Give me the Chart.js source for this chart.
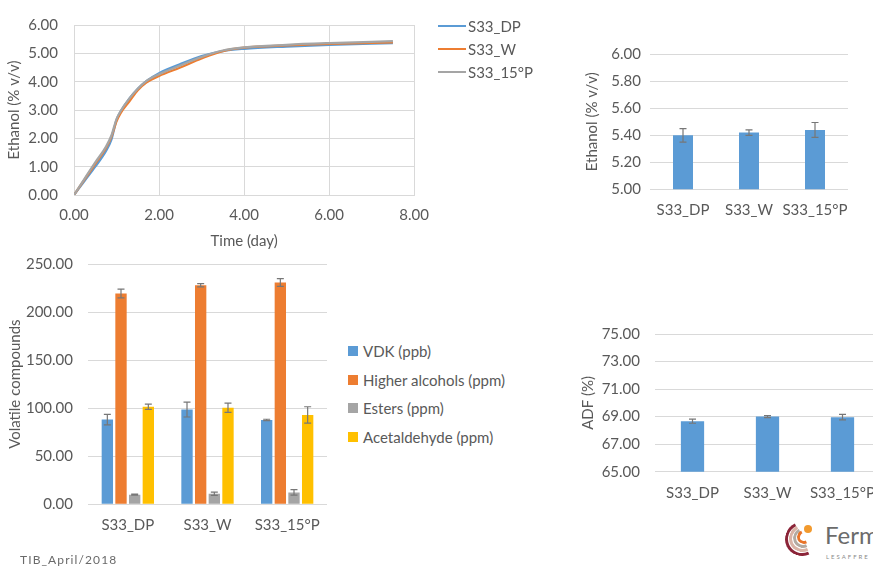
<!DOCTYPE html>
<html>
<head>
<meta charset="utf-8">
<script src="https://cdn.jsdelivr.net/npm/chart.js@4.4.0/dist/chart.umd.min.js"></script>
<style>
  body { margin: 0; width: 873px; height: 567px; overflow: hidden; background: #fff; position: relative; font-family: Lato, sans-serif; }
  canvas { position: absolute; }
  .leyenda { position: absolute; font-size: 15px; color: #595959; }
  .fila { position: absolute; white-space: nowrap; display: flex; align-items: center; }
  .linea { display: inline-block; width: 28px; height: 2px; margin-right: 2px; }
  .cuadro { display: inline-block; width: 10px; height: 10px; margin-right: 5px; }
  #pie { position: absolute; left: 20px; top: 552px; font-size: 12px; letter-spacing: 1.1px; color: #6a6a6a; }
  #logo { position: absolute; left: 780px; top: 515px; width: 93px; height: 52px; }
  .arco { position: absolute; border-radius: 50%; border: 3px solid transparent; transform: rotate(20deg); }
</style>
</head>
<body>
<canvas id="g1" width="440" height="250" style="left:0;top:0"></canvas>
<canvas id="g2" width="313" height="210" style="left:560px;top:20px"></canvas>
<canvas id="g3" width="345" height="300" style="left:0;top:240px"></canvas>
<canvas id="g4" width="340" height="200" style="left:560px;top:310px"></canvas>

<div class="leyenda" id="ley1"></div>
<div class="leyenda" id="ley3"></div>

<div id="pie">TIB_April/2018</div>

<div id="logo">
  <div class="arco" style="left:5px;top:7px;width:28px;height:28px;border-left-color:#8b2438;border-bottom-color:#8b2438"></div>
  <div class="arco" style="left:9px;top:10px;width:21px;height:21px;border-left-color:#d9b3a6;border-bottom-color:#d9b3a6"></div>
  <div class="arco" style="left:13px;top:13px;width:14px;height:14px;border-left-color:#b3aaa2;border-bottom-color:#b3aaa2"></div>
  <div class="arco" style="left:17px;top:15px;width:8px;height:8px;border-left-color:#e8742a;border-bottom-color:#e8742a"></div>
  <div style="position:absolute;left:24px;top:10px;width:8px;height:8px;border-radius:50%;background:#f29a2e"></div>
  <div style="position:absolute;left:45px;top:5px;font-size:24px;color:#6b6b6b;font-family:Lato,sans-serif">Ferm</div>
  <div style="position:absolute;left:46px;top:38px;font-size:6px;letter-spacing:2px;color:#8a8a8a">LESAFFRE</div>
</div>

<script>
// Etanol durante la fermentación
const tiempo     = [0, 0.25, 0.5, 0.75, 0.88, 1.0, 1.1, 1.3, 1.5, 1.7, 2.0, 2.5, 3.0, 3.5, 4.0, 5.0, 6.0, 7.5];
const etanolDP   = [0, 0.50, 1.00, 1.55, 1.95, 2.65, 2.95, 3.40, 3.75, 4.02, 4.30, 4.62, 4.90, 5.08, 5.16, 5.24, 5.30, 5.36];
const etanolW    = [0, 0.55, 1.10, 1.65, 2.05, 2.60, 2.90, 3.30, 3.70, 3.97, 4.20, 4.50, 4.82, 5.08, 5.20, 5.28, 5.33, 5.39];
const etanol15P  = [0, 0.58, 1.15, 1.70, 2.10, 2.68, 2.97, 3.40, 3.75, 4.02, 4.26, 4.57, 4.87, 5.10, 5.21, 5.30, 5.36, 5.43];
const series1    = ['S33_DP', 'S33_W', 'S33_15°P'];

// Etanol final
const cepas = ['S33_DP', 'S33_W', 'S33_15°P'];
const etanolFinal    = [5.40, 5.42, 5.44];
const etanolFinalErr = [0.05, 0.02, 0.055];

// Compuestos volátiles
const compuestos   = ['VDK (ppb)', 'Higher alcohols (ppm)', 'Esters (ppm)', 'Acetaldehyde (ppm)'];
const vdk          = [88.1, 98.5, 87.8];
const vdkErr       = [5.5, 7.7, 0.7];
const alcoholes    = [219.3, 227.9, 230.7];
const alcoholesErr = [4.5, 1.7, 4.0];
const esteres      = [10.0, 11.0, 12.4];
const esteresErr   = [0.5, 1.7, 2.8];
const acetaldehido = [101.5, 100.5, 93.0];
const acetaldehidoErr = [2.7, 4.8, 8.5];

// ADF
const adf    = [68.67, 69.0, 68.96];
const adfErr = [0.15, 0.07, 0.2];

const colores = ['#5B9BD5', '#ED7D31', '#A5A5A5', '#FFC000'];
const gris = '#595959';
const rejilla = '#D9D9D9';

Chart.defaults.font.family = 'Lato, sans-serif';
Chart.defaults.font.size = 15;
Chart.defaults.color = gris;

const barrasError = {
  id: 'barrasError',
  afterDatasetsDraw(chart) {
    const ctx = chart.ctx;
    const y = chart.scales.y;
    chart.data.datasets.forEach((ds, i) => {
      if (!ds.errores) return;
      const meta = chart.getDatasetMeta(i);
      meta.data.forEach((bar, j) => {
        const v = ds.data[j], e = ds.errores[j];
        const arriba = y.getPixelForValue(v + e), abajo = y.getPixelForValue(v - e);
        ctx.save();
        ctx.strokeStyle = '#777';
        ctx.lineWidth = 1.2;
        ctx.beginPath();
        ctx.moveTo(bar.x, arriba); ctx.lineTo(bar.x, abajo);
        ctx.moveTo(bar.x - 3.5, arriba); ctx.lineTo(bar.x + 3.5, arriba);
        ctx.moveTo(bar.x - 3.5, abajo); ctx.lineTo(bar.x + 3.5, abajo);
        ctx.stroke();
        ctx.restore();
      });
    });
  }
};

const sinExtras = { legend: { display: false }, tooltip: { enabled: false } };
const xCategorias = (pad, alto) => ({
  ticks: { padding: pad, maxRotation: 0, minRotation: 0, autoSkip: false },
  grid: { display: false, drawTicks: false },
  border: { display: false },
  afterFit: s => { s.height = alto; }
});

// ----- gráfico 1: curva de etanol -----
const curvas = [etanolDP, etanolW, etanol15P];
new Chart(document.getElementById('g1'), {
  type: 'line',
  data: {
    datasets: curvas.map((c, k) => ({
      label: series1[k],
      data: tiempo.map((t, i) => ({ x: t, y: c[i] })),
      borderColor: colores[k],
      order: 3 - k
    }))
  },
  options: {
    responsive: false,
    animation: false,
    layout: { padding: { left: 0, right: 25, top: 17.7, bottom: 0 } },
    plugins: sinExtras,
    elements: {
      point: { radius: 0 },
      line: { borderWidth: 2.25, cubicInterpolationMode: 'monotone' }
    },
    scales: {
      x: {
        type: 'linear', min: 0, max: 8,
        ticks: { stepSize: 2, padding: 11, maxRotation: 0, callback: v => v.toFixed(2) },
        grid: { color: rejilla, drawTicks: false },
        border: { color: rejilla },
        title: { display: true, text: 'Time (day)', padding: 0 },
        afterFit: s => { s.height = 55; }
      },
      y: {
        min: 0, max: 6,
        ticks: { stepSize: 1, padding: 16, callback: v => v.toFixed(2) },
        grid: { color: rejilla, drawTicks: false },
        border: { color: rejilla },
        title: { display: true, text: 'Ethanol (% v/v)', padding: { top: 5, bottom: 0 } },
        afterFit: s => { s.width = 74; }
      }
    }
  }
});

// ----- gráfico 2: etanol final -----
new Chart(document.getElementById('g2'), {
  type: 'bar',
  data: {
    labels: cepas,
    datasets: [{ data: etanolFinal, errores: etanolFinalErr, backgroundColor: colores[0], barPercentage: 0.303, categoryPercentage: 1 }]
  },
  options: {
    responsive: false,
    animation: false,
    layout: { padding: { left: 0, right: 25, top: 34.3, bottom: 0 } },
    plugins: sinExtras,
    scales: {
      x: xCategorias(12, 40.7),
      y: {
        min: 5, max: 6,
        ticks: { stepSize: 0.2, padding: 9, callback: v => v.toFixed(2) },
        grid: { color: rejilla, drawTicks: false },
        border: { display: false },
        title: { display: true, text: 'Ethanol (% v/v)', padding: { top: 23, bottom: 0 } },
        afterFit: s => { s.width = 90; }
      }
    }
  },
  plugins: [barrasError]
});

// ----- gráfico 3: compuestos volátiles -----
const valores3 = [vdk, alcoholes, esteres, acetaldehido];
const errores3 = [vdkErr, alcoholesErr, esteresErr, acetaldehidoErr];
new Chart(document.getElementById('g3'), {
  type: 'bar',
  data: {
    labels: cepas,
    datasets: valores3.map((v, k) => ({
      label: compuestos[k], data: v, errores: errores3[k],
      backgroundColor: colores[k], barPercentage: 0.83, categoryPercentage: 0.686
    }))
  },
  options: {
    responsive: false,
    animation: false,
    layout: { padding: { left: 0, right: 18, top: 22.3, bottom: 0 } },
    plugins: sinExtras,
    scales: {
      x: xCategorias(12, 35.7),
      y: {
        min: 0, max: 250,
        ticks: { stepSize: 50, padding: 15, callback: v => v.toFixed(2) },
        grid: { color: rejilla, drawTicks: false },
        border: { display: false },
        title: { display: true, text: 'Volatile compounds', padding: { top: 6, bottom: 0 } },
        afterFit: s => { s.width = 88; }
      }
    }
  },
  plugins: [barrasError]
});

// ----- gráfico 4: ADF -----
new Chart(document.getElementById('g4'), {
  type: 'bar',
  data: {
    labels: cepas,
    datasets: [{ data: adf, errores: adfErr, backgroundColor: colores[0], barPercentage: 0.31, categoryPercentage: 1 }]
  },
  options: {
    responsive: false,
    animation: false,
    layout: { padding: { left: 0, right: 20, top: 23.3, bottom: 0 } },
    plugins: sinExtras,
    scales: {
      x: xCategorias(12, 38.3),
      y: {
        min: 65, max: 75,
        ticks: { stepSize: 2, padding: 15, callback: v => v.toFixed(2) },
        grid: { color: rejilla, drawTicks: false },
        border: { display: false },
        title: { display: true, text: 'ADF (%)', padding: { top: 18.7, bottom: 0 } },
        afterFit: s => { s.width = 95; }
      }
    }
  },
  plugins: [barrasError]
});

// leyendas
const ley1 = document.getElementById('ley1');
series1.forEach((nombre, k) => {
  const fila = document.createElement('div');
  fila.className = 'fila';
  fila.style.left = '438px';
  fila.style.top = (17 + k * 23) + 'px';
  fila.innerHTML = `<span class="linea" style="background:${colores[k]}"></span>${nombre}`;
  ley1.appendChild(fila);
});
const ley3 = document.getElementById('ley3');
compuestos.forEach((nombre, k) => {
  const fila = document.createElement('div');
  fila.className = 'fila';
  fila.style.left = '348px';
  fila.style.top = (342 + k * 28.7) + 'px';
  fila.innerHTML = `<span class="cuadro" style="background:${colores[k]}"></span>${nombre}`;
  ley3.appendChild(fila);
});
</script>
</body>
</html>
